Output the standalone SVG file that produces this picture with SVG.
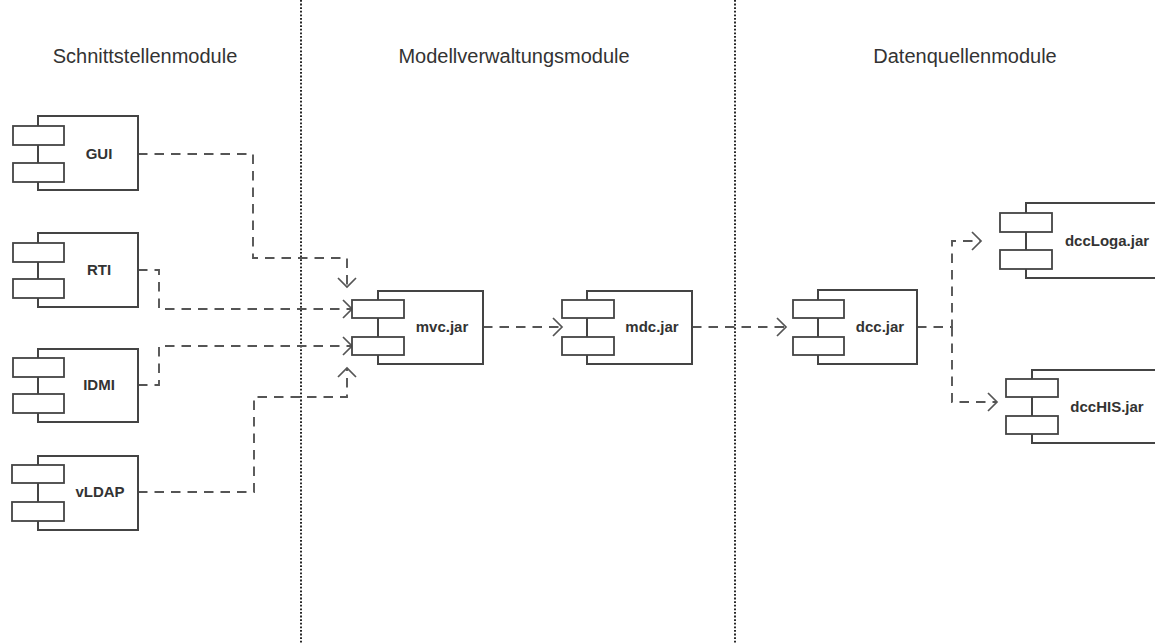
<svg xmlns="http://www.w3.org/2000/svg" width="1155" height="643" viewBox="0 0 1155 643">
<style>
.bg{fill:#ffffff}
.sep{stroke:#111;stroke-width:1.8;stroke-dasharray:1.8,1.8;fill:none}
.head{font-family:"Liberation Sans",Arial,sans-serif;font-size:20px;fill:#333;text-anchor:middle}
.box{fill:#fff;stroke:#444;stroke-width:2}
.port{fill:#fff;stroke:#444;stroke-width:1.8}
.lbl{font-family:"Liberation Sans",Arial,sans-serif;font-size:15px;font-weight:bold;fill:#333;text-anchor:middle}
.dep{fill:none;stroke:#555;stroke-width:1.9;stroke-dasharray:9.5,7}
</style>
<defs>
<marker id="open" viewBox="0 0 12 22" refX="10" refY="11" markerWidth="12" markerHeight="22" markerUnits="userSpaceOnUse" orient="auto">
<path d="M1,2 L10,11 L1,20" fill="none" stroke="#555" stroke-width="1.7"/>
</marker>
</defs>
<rect class="bg" x="0" y="0" width="1155" height="643"/>
<g id="separators">
<line class="sep" x1="301" y1="0" x2="301" y2="643"/>
<line class="sep" x1="735" y1="0" x2="735" y2="643"/>
</g>
<g id="headings">
<text class="head" x="145" y="63">Schnittstellenmodule</text>
<text class="head" x="514" y="63">Modellverwaltungsmodule</text>
<text class="head" x="965" y="63">Datenquellenmodule</text>
</g>
<g id="connectors">
<path class="dep" d="M138,154 H253 V258 H347 V287" marker-end="url(#open)"/>
<path class="dep" d="M138,270 H159 V309 H352" marker-end="url(#open)"/>
<path class="dep" d="M138,385 H159 V346 H352" marker-end="url(#open)"/>
<path class="dep" d="M138,492 H254 V397 H347 V368" marker-end="url(#open)"/>
<path class="dep" d="M483,327 H562" marker-end="url(#open)"/>
<path class="dep" d="M692,327 H786" marker-end="url(#open)"/>
<path class="dep" d="M917,327 H952 V241 H981" marker-end="url(#open)"/>
<path class="dep" d="M952,327 V402 H997" marker-end="url(#open)"/>
</g>
<g id="GUI">
<rect class="box" x="38" y="116" width="100" height="74"/>
<rect class="port" x="13" y="126" width="51" height="19"/>
<rect class="port" x="13" y="163" width="51" height="19"/>
<text class="lbl" x="99" y="159">GUI</text>
</g>
<g id="RTI">
<rect class="box" x="38" y="233" width="100" height="74"/>
<rect class="port" x="13" y="243" width="51" height="19"/>
<rect class="port" x="13" y="279" width="51" height="19"/>
<text class="lbl" x="99" y="275">RTI</text>
</g>
<g id="IDMI">
<rect class="box" x="38" y="349" width="100" height="73"/>
<rect class="port" x="13" y="358" width="51" height="19"/>
<rect class="port" x="13" y="394" width="51" height="19"/>
<text class="lbl" x="99" y="390">IDMI</text>
</g>
<g id="vLDAP">
<rect class="box" x="38" y="456" width="100" height="74"/>
<rect class="port" x="12" y="465" width="52" height="18"/>
<rect class="port" x="12" y="502" width="52" height="19"/>
<text class="lbl" x="100" y="497">vLDAP</text>
</g>
<g id="mvc">
<rect class="box" x="378" y="291" width="105" height="73"/>
<rect class="port" x="352" y="300" width="52" height="18"/>
<rect class="port" x="352" y="337" width="52" height="18"/>
<text class="lbl" x="442" y="332">mvc.jar</text>
</g>
<g id="mdc">
<rect class="box" x="587" y="291" width="105" height="73"/>
<rect class="port" x="562" y="300" width="52" height="18"/>
<rect class="port" x="562" y="337" width="52" height="18"/>
<text class="lbl" x="652" y="332">mdc.jar</text>
</g>
<g id="dcc">
<rect class="box" x="818" y="290" width="99" height="74"/>
<rect class="port" x="793" y="300" width="51" height="18"/>
<rect class="port" x="793" y="337" width="51" height="18"/>
<text class="lbl" x="880" y="332">dcc.jar</text>
</g>
<g id="dccLoga">
<rect class="box" x="1026" y="203" width="140" height="75"/>
<rect class="port" x="1000" y="213" width="52" height="19"/>
<rect class="port" x="1000" y="250" width="52" height="19"/>
<text class="lbl" x="1107" y="246">dccLoga.jar</text>
</g>
<g id="dccHIS">
<rect class="box" x="1032" y="370" width="140" height="73"/>
<rect class="port" x="1006" y="379" width="52" height="18"/>
<rect class="port" x="1006" y="416" width="52" height="18"/>
<text class="lbl" x="1107" y="412">dccHIS.jar</text>
</g>
</svg>
